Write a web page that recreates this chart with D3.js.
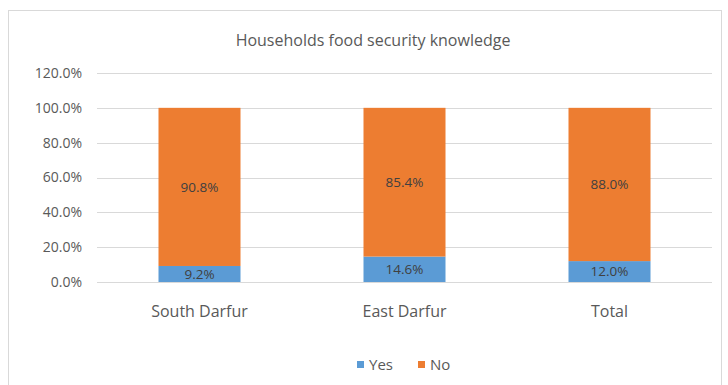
<!DOCTYPE html>
<html>
<head>
<meta charset="utf-8">
<script src="https://cdn.jsdelivr.net/npm/d3@7/dist/d3.min.js"></script>
<style>
  html, body { margin: 0; padding: 0; background: #fff; }
  svg { display: block; }
</style>
</head>
<body>
<svg id="chart" width="728" height="385"></svg>
<script>
// Share of households with food security knowledge, by locality
const categories = ["South Darfur", "East Darfur", "Total"];
const yesValues = [9.2, 14.6, 12.0];
const noValues = [90.8, 85.4, 88.0];
const seriesNames = ["Yes", "No"];
const seriesColors = ["#5B9BD5", "#ED7D31"];
const yTicks = [0, 20, 40, 60, 80, 100, 120];
const title = "Households food security knowledge";

const font = "'Open Sans', sans-serif";
const svg = d3.select("#chart");
const W = 728, H = 385;

// outer chart frame
svg.append("rect")
  .attr("x", 8.5).attr("y", 10.5)
  .attr("width", 713).attr("height", 380)
  .attr("fill", "#fff")
  .attr("stroke", "#d9d9d9");

const margin = { left: 97, right: 16, top: 73, bottom: 103 };
const plotW = W - margin.left - margin.right;
const plotH = H - margin.top - margin.bottom;

const x = d3.scaleBand().domain(categories).range([0, plotW]).paddingInner(0.6).paddingOuter(0.3);
const y = d3.scaleLinear().domain([0, 120]).range([plotH, 0]);

const g = svg.append("g").attr("transform", `translate(${margin.left},${margin.top})`);

// gridlines
g.append("g").selectAll("line").data(yTicks).join("line")
  .attr("x1", 0).attr("x2", plotW)
  .attr("y1", d => Math.round(y(d)) + 0.5).attr("y2", d => Math.round(y(d)) + 0.5)
  .attr("stroke", "#d9d9d9").attr("stroke-width", 1);

// y axis labels
const yAxis = d3.axisLeft(y).tickValues(yTicks).tickSize(0).tickPadding(15)
  .tickFormat(d => d.toFixed(1) + "%");
const ya = g.append("g").call(yAxis);
ya.select(".domain").remove();
ya.selectAll("text").attr("font-family", font).attr("font-size", 14).attr("fill", "#595959");

// stacked data
const rows = categories.map((c, i) => ({ cat: c, Yes: yesValues[i], No: noValues[i] }));
const stack = d3.stack().keys(seriesNames)(rows);

const layers = g.selectAll("g.layer").data(stack).join("g")
  .attr("class", "layer")
  .attr("fill", (d, i) => seriesColors[i]);

layers.selectAll("rect").data(d => d).join("rect")
  .attr("x", d => x(d.data.cat))
  .attr("width", x.bandwidth())
  .attr("y", d => y(d[1]))
  .attr("height", d => y(d[0]) - y(d[1]));

// value labels centred in each segment
layers.selectAll("text").data((d, i) => d.map(v => ({ v, key: d.key }))).join("text")
  .attr("x", d => x(d.v.data.cat) + x.bandwidth() / 2)
  .attr("y", d => y((d.v[0] + d.v[1]) / 2))
  .attr("dy", "0.35em")
  .attr("text-anchor", "middle")
  .attr("font-family", font).attr("font-size", 13.5)
  .attr("fill", "#404040")
  .text(d => d.v.data[d.key].toFixed(1) + "%");

// x axis category labels
const xa = g.append("g").attr("transform", `translate(0,${plotH})`)
  .call(d3.axisBottom(x).tickSize(0).tickPadding(24));
xa.select(".domain").remove();
xa.selectAll("text").attr("font-family", font).attr("font-size", 16).attr("fill", "#595959");

// title
svg.append("text")
  .attr("x", 373).attr("y", 46)
  .attr("text-anchor", "middle")
  .attr("font-family", font).attr("font-size", 16)
  .attr("fill", "#595959")
  .text(title);

// legend
const legend = svg.append("g").attr("transform", "translate(357,365)");
const items = legend.selectAll("g").data(seriesNames).join("g")
  .attr("transform", (d, i) => `translate(${i * 61},0)`);
items.append("rect").attr("x", 0).attr("y", -4).attr("width", 7).attr("height", 7)
  .attr("fill", (d, i) => seriesColors[i]);
items.append("text").attr("x", 12).attr("y", 0).attr("dy", "0.35em")
  .attr("font-family", font).attr("font-size", 15).attr("fill", "#595959")
  .text(d => d);
</script>
</body>
</html>
